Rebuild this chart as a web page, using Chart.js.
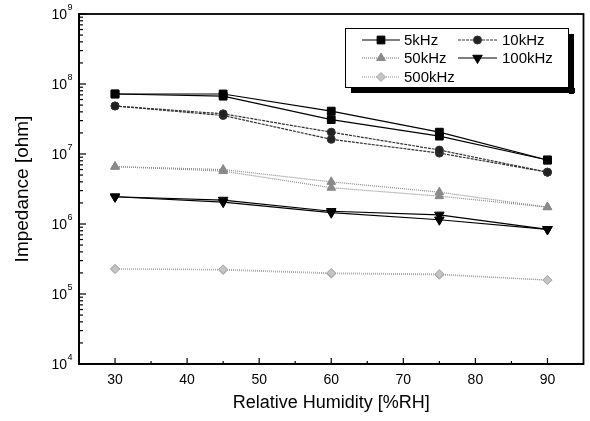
<!DOCTYPE html>
<html>
<head>
<meta charset="utf-8">
<script src="https://cdn.jsdelivr.net/npm/chart.js@4/dist/chart.umd.min.js"></script>
<style>
html,body{margin:0;padding:0;background:#fff;}
#wrap{width:590px;height:421px;position:relative;}
</style>
</head>
<body>
<div id="wrap"><canvas id="c" width="590" height="421"></canvas></div>
<script>
// ---- data ----
const humidity = [30, 45, 60, 75, 90];
const seriesNames = ['5kHz', '10kHz', '50kHz', '100kHz', '500kHz'];
// two traces per frequency (humidity up / down)
const z5kHzA   = [7.2e7, 7.2e7, 4.1e7, 2.05e7, 8.2e6];
const z5kHzB   = [7.2e7, 6.7e7, 3.1e7, 1.8e7, 8.2e6];
const z10kHzA  = [4.85e7, 3.75e7, 2.05e7, 1.14e7, 5.5e6];
const z10kHzB  = [4.85e7, 3.55e7, 1.62e7, 1.03e7, 5.5e6];
const z50kHzA  = [6.6e6, 6.0e6, 4.0e6, 2.85e6, 1.74e6];
const z50kHzB  = [6.6e6, 5.7e6, 3.3e6, 2.5e6, 1.74e6];
const z100kHzA = [2.45e6, 2.2e6, 1.52e6, 1.35e6, 8.4e5];
const z100kHzB = [2.45e6, 2.05e6, 1.45e6, 1.15e6, 8.4e5];
const z500kHzA = [2.28e5, 2.25e5, 2.0e5, 1.93e5, 1.58e5];
const z500kHzB = [2.28e5, 2.2e5, 1.95e5, 1.88e5, 1.58e5];
const yDecades = [4, 5, 6, 7, 8, 9];
const xTicks = [30, 40, 50, 60, 70, 80, 90];

const styles = [
  {color:'#000', fill:'#000', point:'rect', rot:0, radius:5.5, dash:[]},
  {color:'#333', fill:'#222', point:'circle', rot:0, radius:4, dash:[3,1]},
  {color:'#8a8a8a', fill:'#8a8a8a', point:'triangle', rot:0, radius:5, dash:[1,1]},
  {color:'#000', fill:'#000', point:'triangle', rot:180, radius:5.5, dash:[]},
  {color:'#a8a8a8', fill:'#c4c4c4', point:'rectRot', rot:0, radius:4.5, dash:[1,1]}
];
const traces = [[z5kHzA,z5kHzB],[z10kHzA,z10kHzB],[z50kHzA,z50kHzB],[z100kHzA,z100kHzB],[z500kHzA,z500kHzB]];

const datasets = [];
traces.forEach((pair, i) => {
  pair.forEach((vals, j) => {
    const s = styles[i];
    datasets.push({
      label: seriesNames[i] + (j ? ' (b)' : ''),
      data: humidity.map((h, k) => ({x: h, y: vals[k]})),
      borderColor: s.color,
      backgroundColor: s.fill,
      pointBackgroundColor: s.fill,
      pointBorderColor: s.color,
      pointStyle: s.point,
      pointRotation: s.rot,
      pointRadius: s.radius,
      pointBorderWidth: 1,
      borderWidth: 1.2,
      borderDash: s.dash,
      tension: 0,
      fill: false
    });
  });
});

const FONT = 'Liberation Sans, Arial, sans-serif';

const decorPlugin = {
  id: 'decor',
  afterDraw(chart) {
    const ctx = chart.ctx;
    const a = chart.chartArea;
    const ys = chart.scales.y, xs = chart.scales.x;
    ctx.save();
    ctx.strokeStyle = '#000';
    ctx.lineWidth = 1.8;
    ctx.strokeRect(a.left, a.top, a.right - a.left, a.bottom - a.top);
    // y ticks (inward)
    ctx.lineWidth = 1.2;
    yDecades.forEach((d, idx) => {
      const y = ys.getPixelForValue(Math.pow(10, d));
      ctx.beginPath(); ctx.moveTo(a.left, y); ctx.lineTo(a.left + 7, y); ctx.stroke();
      if (idx < yDecades.length - 1) {
        for (let m = 2; m <= 9; m++) {
          const ym = ys.getPixelForValue(m * Math.pow(10, d));
          ctx.beginPath(); ctx.moveTo(a.left, ym); ctx.lineTo(a.left + 4, ym); ctx.stroke();
        }
      }
      // label 10^d
      ctx.fillStyle = '#000';
      ctx.textBaseline = 'middle';
      ctx.textAlign = 'left';
      const supFont = '9px ' + FONT;
      ctx.font = supFont;
      const ew = ctx.measureText(String(d)).width;
      ctx.font = '14px ' + FONT;
      const bw = ctx.measureText('10').width;
      const xEnd = a.left - 7;
      ctx.fillText('10', xEnd - ew - bw, y + 1);
      ctx.font = supFont;
      ctx.fillText(String(d), xEnd - ew + 0.5, y - 6);
    });
    // x ticks (inward)
    for (let v = 30; v <= 90; v += 5) {
      const x = xs.getPixelForValue(v);
      const len = (v % 10 === 0) ? 6 : 3;
      ctx.beginPath(); ctx.moveTo(x, a.bottom); ctx.lineTo(x, a.bottom - len); ctx.stroke();
    }
    // legend box
    const L = 345, T = 28, R = 569, B = 88;
    ctx.fillStyle = '#000';
    ctx.fillRect(L + 6, B, R - L, 5);
    ctx.fillRect(R, T + 6, 5, B - T);
    ctx.fillStyle = '#fff';
    ctx.fillRect(L, T, R - L, B - T);
    ctx.lineWidth = 1;
    ctx.strokeStyle = '#000';
    ctx.strokeRect(L + 0.5, T + 0.5, R - L - 1, B - T - 1);
    const cols = [{x1:362, x2:400, tx:404}, {x1:458, x2:497, tx:502}];
    const rows = [40, 58, 77];
    const order = [[0,0,0],[1,0,1],[2,1,0],[3,1,1],[4,2,0]];
    ctx.font = '15px ' + FONT;
    order.forEach(([si, r, c]) => {
      const s = styles[si];
      const col = cols[c], y = rows[r];
      ctx.save();
      ctx.strokeStyle = s.color;
      ctx.lineWidth = 1.2;
      ctx.setLineDash(s.dash);
      ctx.beginPath(); ctx.moveTo(col.x1, y); ctx.lineTo(col.x2, y); ctx.stroke();
      ctx.restore();
      ctx.save();
      ctx.fillStyle = s.fill; ctx.strokeStyle = s.color; ctx.lineWidth = 1;
      Chart.helpers.drawPoint(ctx, {pointStyle: s.point, rotation: s.rot, radius: s.radius, borderWidth: 1}, (col.x1 + col.x2) / 2, y);
      ctx.restore();
      ctx.fillStyle = '#000';
      ctx.textAlign = 'left';
      ctx.textBaseline = 'middle';
      ctx.fillText(seriesNames[si], col.tx, y + 1);
    });
    ctx.restore();
  }
};

new Chart(document.getElementById('c'), {
  type: 'line',
  data: {datasets},
  options: {
    responsive: false,
    animation: false,
    devicePixelRatio: 1,
    layout: {padding: {top: 14, right: 5, left: 0, bottom: 0}},
    plugins: {legend: {display: false}, tooltip: {enabled: false}},
    scales: {
      x: {
        type: 'linear', min: 25, max: 95,
        afterFit: s => { s.height = 57; },
        afterBuildTicks: s => { s.ticks = xTicks.map(v => ({value: v})); },
        grid: {display: false, drawTicks: false},
        border: {display: true, color: '#000', width: 1.8},
        ticks: {padding: 8, color: '#000', font: {family: FONT, size: 14}},
        title: {display: true, text: 'Relative Humidity [%RH]', color: '#000', font: {family: FONT, size: 18}, padding: {top: 0, bottom: 7}}
      },
      y: {
        type: 'logarithmic', min: 1e4, max: 1e9,
        afterFit: s => { s.width = 79; },
        grid: {display: false, drawTicks: false},
        border: {display: true, color: '#000', width: 1.8},
        ticks: {display: false},
        title: {display: true, text: 'Impedance [ohm]', color: '#000', font: {family: FONT, size: 19}, padding: {top: 11, bottom: 0}}
      }
    }
  },
  plugins: [decorPlugin]
});
</script>
</body>
</html>
